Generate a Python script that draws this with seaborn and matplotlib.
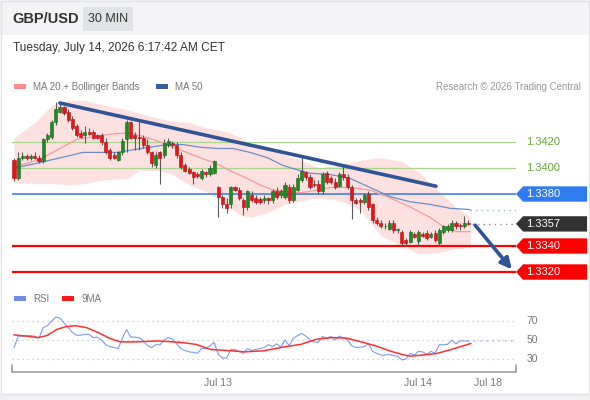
import matplotlib
matplotlib.use("Agg")
import matplotlib.pyplot as plt
import matplotlib.transforms as mtransforms
from matplotlib.patches import Rectangle, Polygon
import numpy as np
import seaborn as sns

# 30 min candles, GBP/USD (index 0 = first visible candle, Jul 13 starts at 49, Jul 14 at 97)
opens = [1.3406, 1.3392, 1.3408, 1.3409, 1.3408, 1.3409, 1.3408, 1.3405, 1.3422, 1.3424,
         1.3435, 1.3443, 1.3447, 1.3443, 1.3438, 1.3432, 1.3427, 1.3425, 1.3428, 1.3428,
         1.3425, 1.3425, 1.3420, 1.3414, 1.3410, 1.3406, 1.3412, 1.3422, 1.3435, 1.3425,
         1.3424, 1.3423, 1.3418, 1.3412, 1.3402, 1.3412, 1.3410, 1.3418, 1.3419, 1.3418,
         1.3410, 1.3402, 1.3399, 1.3397, 1.3395, 1.3392, 1.3397, 1.3395, 1.3396, 1.3385,
         1.3378, 1.3372, 1.3372, 1.3385, 1.3383, 1.3375, 1.3370, 1.3379, 1.3377, 1.3376,
         1.3375, 1.3377, 1.3375, 1.3382, 1.3379, 1.3378, 1.3385, 1.3375, 1.3383, 1.3391,
         1.3397, 1.3393, 1.3388, 1.3388, 1.3382, 1.3396, 1.3392, 1.3389, 1.3386, 1.3395,
         1.3393, 1.3385, 1.3375, 1.3375, 1.3374, 1.3380, 1.3372, 1.3360, 1.3358, 1.3355,
         1.3353, 1.3358, 1.3352, 1.3351, 1.3345, 1.3343, 1.3349, 1.3344, 1.3349, 1.3350,
         1.3347, 1.3350, 1.3342, 1.3351, 1.3352, 1.3352, 1.3358, 1.3356, 1.3355, 1.3358]
highs = [1.3408, 1.3412, 1.3412, 1.3411, 1.3411, 1.3412, 1.3410, 1.3423, 1.3427, 1.3437,
         1.3451, 1.3450, 1.3448, 1.3445, 1.3440, 1.3434, 1.3429, 1.3432, 1.3431, 1.3429,
         1.3426, 1.3427, 1.3423, 1.3415, 1.3412, 1.3413, 1.3423, 1.3437, 1.3436, 1.3428,
         1.3435, 1.3425, 1.3422, 1.3413, 1.3412, 1.3413, 1.3422, 1.3423, 1.3421, 1.3420,
         1.3412, 1.3404, 1.3401, 1.3398, 1.3397, 1.3399, 1.3398, 1.3402, 1.3406, 1.3386,
         1.3379, 1.3377, 1.3386, 1.3386, 1.3385, 1.3377, 1.3383, 1.3382, 1.3379, 1.3378,
         1.3379, 1.3378, 1.3384, 1.3385, 1.3384, 1.3389, 1.3388, 1.3388, 1.3395, 1.3410,
         1.3398, 1.3395, 1.3391, 1.3391, 1.3397, 1.3398, 1.3394, 1.3392, 1.3397, 1.3402,
         1.3395, 1.3387, 1.3377, 1.3377, 1.3381, 1.3382, 1.3373, 1.3362, 1.3360, 1.3358,
         1.3360, 1.3360, 1.3354, 1.3352, 1.3346, 1.3352, 1.3351, 1.3352, 1.3351, 1.3352,
         1.3351, 1.3352, 1.3354, 1.3356, 1.3357, 1.3360, 1.3359, 1.3358, 1.3363, 1.3360]
lows = [1.3390, 1.3391, 1.3406, 1.3406, 1.3406, 1.3407, 1.3404, 1.3404, 1.3420, 1.3422,
        1.3433, 1.3442, 1.3441, 1.3435, 1.3429, 1.3424, 1.3423, 1.3419, 1.3425, 1.3422,
        1.3422, 1.3418, 1.3411, 1.3406, 1.3407, 1.3405, 1.3410, 1.3412, 1.3422, 1.3414,
        1.3414, 1.3415, 1.3411, 1.3401, 1.3400, 1.3388, 1.3408, 1.3416, 1.3415, 1.3408,
        1.3399, 1.3397, 1.3395, 1.3388, 1.3392, 1.3391, 1.3393, 1.3394, 1.3395, 1.3362,
        1.3369, 1.3365, 1.3369, 1.3382, 1.3375, 1.3364, 1.3368, 1.3374, 1.3372, 1.3372,
        1.3373, 1.3372, 1.3373, 1.3376, 1.3377, 1.3376, 1.3373, 1.3374, 1.3382, 1.3389,
        1.3391, 1.3384, 1.3385, 1.3380, 1.3380, 1.3388, 1.3388, 1.3384, 1.3385, 1.3391,
        1.3384, 1.3361, 1.3372, 1.3365, 1.3372, 1.3368, 1.3358, 1.3356, 1.3354, 1.3353,
        1.3352, 1.3350, 1.3350, 1.3341, 1.3340, 1.3342, 1.3346, 1.3340, 1.3347, 1.3345,
        1.3346, 1.3343, 1.3340, 1.3349, 1.3351, 1.3351, 1.3353, 1.3352, 1.3354, 1.3356]
closes = [1.3392, 1.3408, 1.3409, 1.3408, 1.3409, 1.3408, 1.3405, 1.3422, 1.3425, 1.3435,
          1.3445, 1.3447, 1.3442, 1.3437, 1.3431, 1.3425, 1.3424, 1.3428, 1.3426, 1.3423,
          1.3423, 1.3420, 1.3412, 1.3408, 1.3408, 1.3412, 1.3421, 1.3435, 1.3423, 1.3423,
          1.3423, 1.3418, 1.3412, 1.3404, 1.3410, 1.3408, 1.3419, 1.3421, 1.3418, 1.3410,
          1.3401, 1.3398, 1.3396, 1.3393, 1.3394, 1.3398, 1.3395, 1.3400, 1.3405, 1.3378,
          1.3372, 1.3369, 1.3385, 1.3383, 1.3377, 1.3370, 1.3382, 1.3375, 1.3374, 1.3374,
          1.3377, 1.3375, 1.3382, 1.3378, 1.3382, 1.3387, 1.3375, 1.3385, 1.3392, 1.3398,
          1.3393, 1.3385, 1.3387, 1.3382, 1.3395, 1.3389, 1.3389, 1.3385, 1.3395, 1.3393,
          1.3385, 1.3375, 1.3373, 1.3374, 1.3379, 1.3370, 1.3360, 1.3358, 1.3355, 1.3355,
          1.3358, 1.3352, 1.3352, 1.3342, 1.3342, 1.3351, 1.3347, 1.3351, 1.3348, 1.3346,
          1.3349, 1.3345, 1.3352, 1.3355, 1.3355, 1.3358, 1.3355, 1.3355, 1.3358, 1.3357]

# MA 20, MA 50 and Bollinger bands, read at a few candle positions
ma20_x = [0, 4.6, 7, 11, 15.1, 19, 23, 27.1, 30.2, 33.3, 36.7, 39.8, 42.9, 46.3, 49.4, 52.5,
          55.9, 59, 62.1, 65.5, 68.6, 71, 75.8, 80.6, 85.4, 90.2, 95, 99.8, 102.9, 106.2, 109.4]
ma20 = [1.3401, 1.3405, 1.3408, 1.3415, 1.3422, 1.3424, 1.3426, 1.3427, 1.3425, 1.3422, 1.3418,
        1.3414, 1.3410, 1.3406, 1.3402, 1.3397, 1.3392, 1.3387, 1.3383, 1.3382, 1.3381, 1.3382,
        1.3385, 1.3385, 1.3383, 1.3377, 1.3370, 1.3362, 1.3355, 1.3351, 1.3351]
ma50_x = [0, 4.6, 8.6, 12.7, 16.5, 20.6, 24.7, 28.5, 32.6, 36.7, 40.5, 44.6, 48.7, 52.5, 56.6,
          60.7, 64.5, 68.6, 71, 75.8, 80.6, 85.4, 90.2, 95, 99.8, 104.6, 109.4]
ma50 = [1.3400, 1.3403, 1.3406, 1.3409, 1.3412, 1.3412, 1.3412, 1.3414, 1.3416, 1.3418, 1.3418,
        1.3416, 1.3415, 1.3415, 1.3412, 1.3408, 1.3402, 1.3398, 1.3396, 1.3395, 1.3392, 1.3385,
        1.3378, 1.3374, 1.3372, 1.3369, 1.3368]
band_x = [0, 5, 9, 13, 17, 22, 27, 30, 35, 38, 42, 46, 51, 54, 57, 61, 65, 69, 73, 78, 83, 88,
          93, 97, 102, 106, 109.5]
band_up = [1.3423, 1.3435, 1.3448, 1.3452, 1.3452, 1.3448, 1.3445, 1.3442, 1.3438, 1.3436,
           1.3435, 1.3431, 1.3428, 1.3424, 1.3418, 1.3415, 1.3410, 1.3406, 1.3400, 1.3402,
           1.3406, 1.3408, 1.3405, 1.3397, 1.3382, 1.3370, 1.3362]
band_lo = [1.3389, 1.3388, 1.3388, 1.3387, 1.3388, 1.3391, 1.3392, 1.3398, 1.3398, 1.3395,
           1.3387, 1.3382, 1.3372, 1.3364, 1.3362, 1.3366, 1.3372, 1.3375, 1.3377, 1.3375,
           1.3368, 1.3348, 1.3340, 1.3334, 1.3335, 1.3338, 1.3339]

# trend line and projected arrow
trend_x = [11, 101.2]
trend_y = [1.3450, 1.3386]
arrow_x = [110.6, 119.4]
arrow_y = [1.3356, 1.3322]

green_levels = [1.3420, 1.3400]
pivot_level = 1.3380
red_levels = [1.3340, 1.3320]

# RSI panel
rsi = [42, 54, 54, 54.5, 54.5, 54, 52, 63, 65, 70,
       74, 73, 68, 63, 58, 55, 55, 56, 56, 52.5,
       53, 50, 45, 43, 42, 41, 52, 61, 53, 53,
       52.5, 49, 44, 42, 45, 45, 50, 52.5, 51, 46,
       41, 39, 37.5, 37, 36, 41, 41, 44, 47.5, 35,
       31, 31, 40, 40, 38, 36, 41, 39, 40, 41,
       42, 45, 43, 46, 42.5, 50, 44, 52, 54.5, 57,
       54, 50, 48, 47.5, 53.6, 52, 53.6, 50, 54, 52.5,
       50, 44, 42, 42.5, 43, 46, 38, 36, 34, 34,
       35, 33.5, 33, 29, 30, 36, 34, 38, 37.5, 35,
       38, 36, 45, 45, 45.5, 50, 46, 49, 49, 49]
ma9_x = [0, 3.9, 5.7, 7.9, 10.2, 12.4, 14.7, 17.4, 20.1, 22.8, 25.5, 29.1, 34.5, 40, 43.6, 47.2,
         50.8, 55.3, 59.8, 65.2, 68.8, 72.5, 76.1, 79.7, 83.3, 86.9, 90.5, 93.2, 95, 97.7,
         101.3, 104.9, 109.6]
ma9 = [55.4, 53.6, 52.5, 54.6, 61, 64, 65, 63, 58, 52, 48, 48, 49, 47.5, 45.4, 40, 39, 37.5,
       38.6, 43, 45.4, 50.7, 52.5, 52, 48, 43.6, 38, 34.6, 33, 34, 35.7, 40, 46.4]
rsi_levels = [30, 50, 70]
day_ticks = [49, 97, 113.7]
day_labels = ["Jul 13", "Jul 14", "Jul 18"]

W, H = 590, 400
XLIM = (-0.48, 120.4)

sns.set_theme(style="white")
plt.rcParams["font.family"] = ["Liberation Sans", "DejaVu Sans"]

fig = plt.figure(figsize=(W / 100, H / 100), dpi=100)
fig.patch.set_facecolor("white")

# overlay in pixel coords for header / legends
ov = fig.add_axes([0, 0, 1, 1], zorder=0)
ov.set_xlim(0, W)
ov.set_ylim(H, 0)
ov.axis("off")
ov.add_patch(Rectangle((0, 0), W, 35, color="#f4f4f6", lw=0))
ov.add_patch(Rectangle((0, 394), W, 6, color="#f1f1f3", lw=0))
ov.add_patch(Rectangle((0.5, 0.5), W - 2, H - 7, fill=False, ec="#e4e4e6", lw=1))
ov.add_patch(Rectangle((83, 7), 50, 24, color="#e2e3e6", lw=0))
ov.text(12, 19, "GBP/USD", fontsize=10.5, fontweight="bold", color="#333333", va="center")
ov.text(108, 19, "30 MIN", fontsize=9, color="#333333", va="center", ha="center")
ov.text(13, 48, "Tuesday, July 14, 2026 6:17:42 AM CET", fontsize=8.6, color="#333333", va="center")

ov.add_patch(Rectangle((14, 84), 12, 5, color="#ff8a8a", lw=0))
ov.text(33, 86.5, "MA 20 + Bollinger Bands", fontsize=7, color="#777777", va="center")
ov.add_patch(Rectangle((156, 84), 12, 5, color="#3a5ea6", lw=0))
ov.text(175, 86.5, "MA 50", fontsize=7, color="#777777", va="center")
ov.text(581, 86.5, "Research \u00a9 2026 Trading Central", fontsize=7, color="#999999",
        va="center", ha="right")
ov.add_patch(Rectangle((14, 296), 12, 5, color="#6f8fe6", lw=0))
ov.text(33, 298.5, "RSI", fontsize=7, color="#777777", va="center")
ov.add_patch(Rectangle((62, 296), 12, 5, color="#ff1a1a", lw=0))
ov.text(82, 298.5, "9MA", fontsize=7, color="#777777", va="center")

# price panel
ax = fig.add_axes([12 / W, 1 - 283 / H, 504 / W, 188 / H], zorder=2)
ax.set_facecolor("none")
ax.set_xlim(*XLIM)
ax.set_ylim(1.331154, 1.345615)
for s in ax.spines.values():
    s.set_visible(False)
ax.set_xticks([])
ax.set_yticks([])

ax.fill_between(band_x, band_lo, band_up, color="#fde1e1", lw=0, zorder=1)
sns.lineplot(x=ma20_x, y=ma20, ax=ax, color="#f59a9a", lw=0.9, zorder=2, estimator=None)
sns.lineplot(x=ma50_x, y=ma50, ax=ax, color="#6d8cc8", lw=0.9, zorder=2, estimator=None)
ax.hlines(ma50[-1], ma50_x[-1], XLIM[1], colors="#9aaed6", linestyles=(0, (1, 3)), lw=1, zorder=2)

for lv in green_levels:
    ax.axhline(lv, color="#a9d48b", lw=0.9, zorder=1.5)
ax.axhline(pivot_level, color="#3f80ec", lw=1.2, zorder=1.5)
for lv in red_levels:
    ax.axhline(lv, color="#ff0000", lw=1.6, zorder=1.5)

xs = np.arange(len(closes))
o = np.array(opens)
c = np.array(closes)
up = c >= o
body_lo = np.minimum(o, c)
body_h = np.maximum(np.abs(c - o), 0.00007)
ax.vlines(xs, lows, highs, colors="#5a5a5a", lw=0.8, zorder=3)
ax.bar(xs, body_h, bottom=body_lo, width=0.74,
       color=np.where(up, "#1f8a1f", "#e8141c"),
       edgecolor=np.where(up, "#176317", "#b00f14"), linewidth=0.4, zorder=4)
ax.hlines(closes[-1], xs[-1] + 0.8, XLIM[1], colors="#8a8a8a", linestyles=(0, (1, 3)), lw=1, zorder=2)

sns.lineplot(x=trend_x, y=trend_y, ax=ax, color="#2f5597", lw=2.6, zorder=5, estimator=None)
ax.annotate("", xy=(arrow_x[1], arrow_y[1]), xytext=(arrow_x[0], arrow_y[0]),
            arrowprops=dict(arrowstyle="-|>", color="#2f5597", lw=2.6, mutation_scale=16,
                            shrinkA=0, shrinkB=0), annotation_clip=False, zorder=5)

trans = mtransforms.blended_transform_factory(ax.transAxes, ax.transData)


def tag(price, color):
    h = 0.00059
    ax.add_patch(Polygon([(1.0, price), (1.014, price + h), (1.141, price + h),
                          (1.141, price - h), (1.014, price - h)], closed=True,
                         transform=trans, clip_on=False, fc=color, ec="none", zorder=6))
    ax.text(1.021, price, f"{price:.4f}", transform=trans, color="white", fontsize=8,
            va="center", ha="left", clip_on=False, zorder=7)


for lv in green_levels:
    ax.text(1.021, lv, f"{lv:.4f}", transform=trans, color="#6aa83a", fontsize=8,
            va="center", ha="left", clip_on=False)
tag(pivot_level, "#2f7cf2")
tag(closes[-1], "#333333")
for lv in red_levels:
    tag(lv, "#ff0000")

# RSI panel
ax2 = fig.add_axes([12 / W, 1 - 372 / H, 504 / W, 72 / H], zorder=2)
ax2.set_facecolor("none")
ax2.set_xlim(*XLIM)
ax2.set_ylim(16.3, 92.1)
trans2 = mtransforms.blended_transform_factory(ax2.transAxes, ax2.transData)
for lv in rsi_levels:
    ax2.axhline(lv, color="#c4c4c4", ls=(0, (1, 3)), lw=0.9, zorder=1)
    ax2.text(1.021, lv, str(lv), transform=trans2, color="#777777", fontsize=7.5,
             va="center", ha="left", clip_on=False)
sns.lineplot(x=np.arange(len(rsi)), y=rsi, ax=ax2, color="#7d9bf0", lw=0.8, zorder=3, estimator=None)
sns.lineplot(x=ma9_x, y=ma9, ax=ax2, color="#ff3030", lw=1.1, zorder=4, estimator=None)
ax2.hlines(rsi[-1], len(rsi) - 1, XLIM[1], colors="#a8bbf2", linestyles=(0, (1, 3)), lw=1.1, zorder=2)

for name, s in ax2.spines.items():
    s.set_visible(name == "bottom")
ax2.spines["bottom"].set_color("#a0a0a0")
ax2.spines["bottom"].set_linewidth(1.2)
for xe in (0, 1):
    ax2.plot([xe, xe], [0, 0.1], transform=ax2.transAxes, color="#a0a0a0", lw=1.2, clip_on=False)
ax2.set_yticks([])
ax2.set_xticks(day_ticks)
ax2.set_xticklabels(day_labels)
ax2.tick_params(axis="x", length=0, colors="#777777", labelsize=7.5, pad=4)

fig.savefig("out.png", dpi=100)
